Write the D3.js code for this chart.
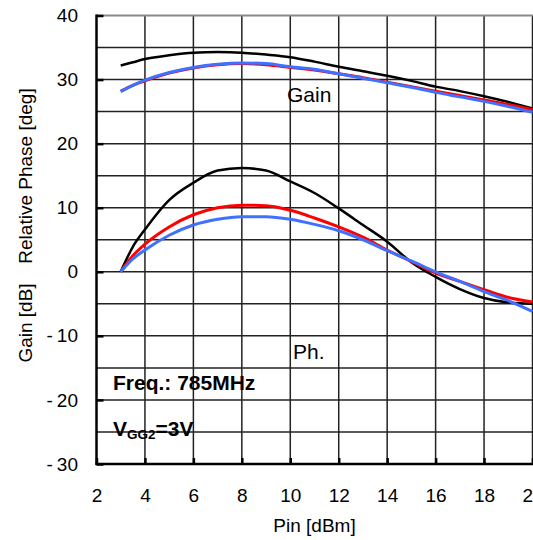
<!DOCTYPE html>
<html>
<head>
<meta charset="utf-8">
<script src="https://cdn.jsdelivr.net/npm/d3@7"></script>
<style>
  html, body { margin: 0; padding: 0; background: #fff; overflow: hidden; }
  svg { display: block; font-family: Arial, "Liberation Sans", sans-serif; }
</style>
</head>
<body>
<svg id="chart" width="533" height="540"></svg>
<script>
// ---- data ----
const pin = [3, 3.5, 4, 5, 6, 7, 8, 9, 10, 11, 12, 13, 14, 15, 16, 17, 18, 19, 20];

const gainBlack = [32.2, 32.7, 33.2, 33.8, 34.2, 34.3, 34.2, 33.9, 33.5, 32.8, 32.0, 31.3, 30.6, 29.8, 28.9, 28.2, 27.4, 26.5, 25.5];
const gainRed   = [28.2, 29.1, 29.8, 31.0, 31.8, 32.3, 32.5, 32.3, 31.9, 31.5, 30.9, 30.3, 29.6, 28.9, 28.2, 27.5, 26.8, 26.1, 25.3];
const gainBlue  = [28.1, 29.1, 29.9, 31.1, 31.9, 32.4, 32.6, 32.5, 32.0, 31.6, 30.9, 30.2, 29.5, 28.8, 28.0, 27.3, 26.6, 25.8, 24.9];

const phaseBlack = [0, 3.9, 6.6, 11.2, 13.9, 15.8, 16.2, 15.8, 14.1, 12.3, 9.9, 7.3, 4.7, 1.5, -0.8, -2.7, -4.1, -4.8, -5.0];
const phaseRed   = [0, 2.5, 4.3, 7.0, 8.9, 10.0, 10.4, 10.3, 9.6, 8.4, 7.0, 5.4, 3.4, 1.6, -0.2, -1.5, -2.8, -4.0, -4.7];
const phaseBlue  = [0, 2.0, 3.4, 5.7, 7.3, 8.2, 8.6, 8.6, 8.2, 7.4, 6.4, 5.0, 3.3, 1.7, 0.0, -1.5, -3.1, -4.5, -6.2];

const xTicks = [2, 4, 6, 8, 10, 12, 14, 16, 18, 20];
const yTicks = [-30, -20, -10, 0, 10, 20, 30, 40];
const yGrid  = [-30, -25, -20, -15, -10, -5, 0, 5, 10, 15, 20, 25, 30, 35, 40];

const seriesColors = ["#000000", "#ff0000", "#4070ff"];

// ---- chart ----
const svg = d3.select("#chart");
const x = d3.scaleLinear().domain([2, 20]).range([96.5, 532.5]);
const y = d3.scaleLinear().domain([-30, 40]).range([464, 15.5]);

// grid
const grid = svg.append("g");
grid.selectAll("line.v").data(xTicks.slice(1)).join("line")
  .attr("x1", d => x(d)).attr("x2", d => x(d))
  .attr("y1", y(40)).attr("y2", y(-30))
  .attr("stroke", "#222").attr("stroke-width", 1.5);
grid.selectAll("line.h").data(yGrid.filter(d => d !== -30 && d !== 40)).join("line")
  .attr("x1", x(2)).attr("x2", 533)
  .attr("y1", d => y(d)).attr("y2", d => y(d))
  .attr("stroke", "#222").attr("stroke-width", 1.5);
// top border (gray)
grid.append("line")
  .attr("x1", x(2)).attr("x2", 533)
  .attr("y1", y(40)).attr("y2", y(40))
  .attr("stroke", "#888").attr("stroke-width", 2);

// axes
function fmtY(d) { return d; }
const yAxis = d3.axisLeft(y).tickValues(yTicks).tickSizeInner(-7).tickSizeOuter(0).tickPadding(18.5).tickFormat(fmtY);
const gy = svg.append("g").attr("transform", `translate(${x(2)},0)`).call(yAxis);
gy.select(".domain").remove();
gy.selectAll(".tick line").attr("stroke", "#000").attr("stroke-width", 2.5);
gy.selectAll(".tick text").attr("font-size", 19).attr("fill", "#000")
  .attr("font-family", "Arial, 'Liberation Sans', sans-serif")
  .each(function(d) {
    if (d < 0) {
      const t = d3.select(this);
      t.text(null);
      t.append("tspan").text("-");
      t.append("tspan").attr("dx", 4).text(Math.abs(d));
    }
  });

const xAxis = d3.axisBottom(x).tickValues(xTicks).tickSizeInner(-6).tickSizeOuter(0).tickPadding(24.5);
const gx = svg.append("g").attr("transform", `translate(0,${y(-30)})`).call(xAxis);
gx.select(".domain").remove();
gx.selectAll(".tick line").attr("stroke", "#000").attr("stroke-width", 2.5);
gx.selectAll(".tick text").attr("font-size", 19).attr("fill", "#000")
  .attr("font-family", "Arial, 'Liberation Sans', sans-serif");

// axis frame lines
svg.append("line").attr("x1", x(2)).attr("x2", x(2)).attr("y1", y(40) - 1).attr("y2", y(-30) + 1)
  .attr("stroke", "#000").attr("stroke-width", 2.5);
svg.append("line").attr("x1", x(2) - 1).attr("x2", 533).attr("y1", y(-30)).attr("y2", y(-30))
  .attr("stroke", "#000").attr("stroke-width", 2.5);

// lines
const line = d3.line().x((d, i) => x(pin[i])).y(d => y(d)).curve(d3.curveMonotoneX);
const gainSeries = [gainBlack, gainRed, gainBlue];
const phaseSeries = [phaseBlack, phaseRed, phaseBlue];
const widths = [2.5, 3, 3];
[gainSeries, phaseSeries].forEach(group => {
  group.forEach((s, k) => {
    svg.append("path").datum(s)
      .attr("d", line)
      .attr("fill", "none")
      .attr("stroke", seriesColors[k])
      .attr("stroke-width", widths[k])
      .attr("stroke-linejoin", "round");
  });
});

// axis titles
svg.append("text").attr("transform", "translate(32,176) rotate(-90)")
  .attr("text-anchor", "middle").attr("font-size", 19).text("Relative Phase [deg]");
svg.append("text").attr("transform", "translate(32,323) rotate(-90)")
  .attr("text-anchor", "middle").attr("font-size", 19).text("Gain [dB]");
svg.append("text").attr("x", 314.5).attr("y", 532)
  .attr("text-anchor", "middle").attr("font-size", 19).text("Pin [dBm]");

// annotations
svg.append("text").attr("x", 287).attr("y", 102).attr("font-size", 21).text("Gain");
svg.append("text").attr("x", 293).attr("y", 359).attr("font-size", 21).text("Ph.");
svg.append("text").attr("x", 113).attr("y", 390).attr("font-size", 21).attr("font-weight", "bold")
  .text("Freq.: 785MHz");
const v = svg.append("text").attr("x", 113).attr("y", 436).attr("font-size", 21).attr("font-weight", "bold");
v.append("tspan").text("V");
v.append("tspan").attr("font-size", 13.5).attr("dy", 3).text("GG2");
v.append("tspan").attr("dy", -3).text("=3V");
</script>
</body>
</html>
